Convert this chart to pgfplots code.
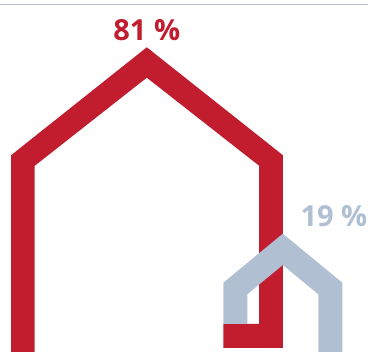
\documentclass[border=0pt]{standalone}
\usepackage{pgfplots}
\pgfplotsset{compat=1.18}
\usepackage{fontspec}
\setmainfont{Open Sans}
\definecolor{houseRed}{HTML}{C21C2F}
\definecolor{houseGrey}{HTML}{B0BFD1}
\begin{document}
\begin{tikzpicture}
\begin{axis}[
  scale only axis,
  width=368pt,
  height=352pt,
  xmin=0, xmax=368,
  ymin=0, ymax=352,
  y dir=reverse,
  hide axis,
  clip=true,
]
% keep the full plot frame in the bounding box
\path (rel axis cs:0,0) rectangle (rel axis cs:1,1);
% rule along the top edge
\addplot[draw=houseGrey, line width=1.4pt, forget plot] coordinates {(0,4.7) (368,4.7)};
% larger house, 81 %
\addplot[fill=houseRed, draw=none, forget plot] coordinates {
  (11,155.3) (146.8,47.3) (283,155.3) (283,347.8) (223.4,347.8) (223.4,324)
  (259.2,324) (259.2,165.8) (146.8,77.7) (34.7,165.8) (34.7,352) (11,352)
} -- cycle;
% smaller house, 19 %
\addplot[fill=houseGrey, draw=none, forget plot] coordinates {
  (223.4,282.7) (282.8,233.7) (342.3,282.7) (342.3,352) (318.3,352) (318.3,294.3)
  (282.8,265) (247.3,294.3) (247.3,324) (223.4,324)
} -- cycle;
\node[text=houseRed, font=\bfseries\fontsize{29}{29}\selectfont, anchor=base, inner sep=0pt]
  at (axis cs:146.8,41) {81 \%};
\node[text=houseGrey, font=\bfseries\fontsize{29}{29}\selectfont, anchor=base, inner sep=0pt]
  at (axis cs:334,227) {19 \%};
\end{axis}
\end{tikzpicture}
\end{document}
